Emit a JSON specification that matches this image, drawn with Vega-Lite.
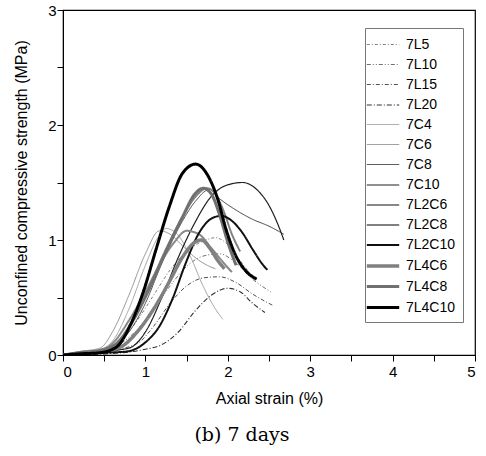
{
  "$schema": "https://vega.github.io/schema/vega-lite/v6.json",
  "width": 412,
  "height": 345,
  "autosize": {"type": "none"},
  "padding": {"left": 63, "top": 10, "right": 11, "bottom": 101},
  "background": "white",
  "title": {"text": "(b) 7 days", "orient": "bottom", "font": "DejaVu Serif", "fontSize": 19, "fontWeight": "normal", "color": "black", "offset": 20, "dx": -27},
  "config": {
    "view": {"stroke": "black", "strokeWidth": 1.2},
    "axis": {"domainColor": "black", "tickColor": "black", "labelColor": "black", "titleColor": "black", "labelFont": "Liberation Sans", "titleFont": "Liberation Sans", "labelFontSize": 15, "titleFontSize": 16, "titleFontWeight": "normal", "grid": false, "ticks": true, "tickWidth": 1},
    "legend": {"labelFont": "Liberation Sans"}
  },
  "data": {"values": [
    {"s":"7L5","x":0,"y":0},{"s":"7L5","x":0.2,"y":0.02},{"s":"7L5","x":0.45,"y":0.04},{"s":"7L5","x":0.7,"y":0.12},{"s":"7L5","x":0.9,"y":0.3},{"s":"7L5","x":1.1,"y":0.52},{"s":"7L5","x":1.3,"y":0.74},{"s":"7L5","x":1.5,"y":0.9},{"s":"7L5","x":1.7,"y":0.99},{"s":"7L5","x":1.85,"y":1.02},{"s":"7L5","x":2.0,"y":0.96},{"s":"7L5","x":2.15,"y":0.82},{"s":"7L5","x":2.3,"y":0.68},
    {"s":"7L10","x":0,"y":0},{"s":"7L10","x":0.2,"y":0.02},{"s":"7L10","x":0.45,"y":0.04},{"s":"7L10","x":0.7,"y":0.1},{"s":"7L10","x":0.9,"y":0.22},{"s":"7L10","x":1.1,"y":0.4},{"s":"7L10","x":1.3,"y":0.6},{"s":"7L10","x":1.5,"y":0.77},{"s":"7L10","x":1.7,"y":0.86},{"s":"7L10","x":1.9,"y":0.88},{"s":"7L10","x":2.1,"y":0.8},{"s":"7L10","x":2.3,"y":0.66},{"s":"7L10","x":2.52,"y":0.55},
    {"s":"7L15","x":0,"y":0},{"s":"7L15","x":0.2,"y":0.01},{"s":"7L15","x":0.5,"y":0.03},{"s":"7L15","x":0.9,"y":0.1},{"s":"7L15","x":1.1,"y":0.25},{"s":"7L15","x":1.3,"y":0.45},{"s":"7L15","x":1.5,"y":0.6},{"s":"7L15","x":1.7,"y":0.67},{"s":"7L15","x":1.9,"y":0.68},{"s":"7L15","x":2.1,"y":0.63},{"s":"7L15","x":2.3,"y":0.53},{"s":"7L15","x":2.55,"y":0.43},
    {"s":"7L20","x":0,"y":0},{"s":"7L20","x":0.5,"y":0.01},{"s":"7L20","x":1.0,"y":0.05},{"s":"7L20","x":1.2,"y":0.09},{"s":"7L20","x":1.4,"y":0.2},{"s":"7L20","x":1.6,"y":0.38},{"s":"7L20","x":1.8,"y":0.52},{"s":"7L20","x":2.0,"y":0.58},{"s":"7L20","x":2.15,"y":0.55},{"s":"7L20","x":2.3,"y":0.45},{"s":"7L20","x":2.45,"y":0.37},
    {"s":"7C4","x":0,"y":0},{"s":"7C4","x":0.2,"y":0.03},{"s":"7C4","x":0.45,"y":0.05},{"s":"7C4","x":0.6,"y":0.12},{"s":"7C4","x":0.8,"y":0.4},{"s":"7C4","x":1.0,"y":0.78},{"s":"7C4","x":1.15,"y":1.02},{"s":"7C4","x":1.25,"y":1.1},{"s":"7C4","x":1.4,"y":1.04},{"s":"7C4","x":1.55,"y":0.85},{"s":"7C4","x":1.7,"y":0.6},{"s":"7C4","x":1.85,"y":0.4},{"s":"7C4","x":1.94,"y":0.31},
    {"s":"7C6","x":0,"y":0},{"s":"7C6","x":0.2,"y":0.03},{"s":"7C6","x":0.45,"y":0.06},{"s":"7C6","x":0.6,"y":0.2},{"s":"7C6","x":0.8,"y":0.52},{"s":"7C6","x":1.0,"y":0.88},{"s":"7C6","x":1.17,"y":1.08},{"s":"7C6","x":1.3,"y":1.05},{"s":"7C6","x":1.45,"y":0.95},{"s":"7C6","x":1.6,"y":0.85},{"s":"7C6","x":1.75,"y":0.78},{"s":"7C6","x":1.85,"y":0.75},
    {"s":"7C8","x":0,"y":0},{"s":"7C8","x":0.2,"y":0.02},{"s":"7C8","x":0.45,"y":0.04},{"s":"7C8","x":0.6,"y":0.06},{"s":"7C8","x":0.8,"y":0.2},{"s":"7C8","x":1.0,"y":0.45},{"s":"7C8","x":1.2,"y":0.8},{"s":"7C8","x":1.4,"y":1.1},{"s":"7C8","x":1.6,"y":1.33},{"s":"7C8","x":1.78,"y":1.44},{"s":"7C8","x":1.9,"y":1.36},{"s":"7C8","x":2.1,"y":1.26},{"s":"7C8","x":2.3,"y":1.18},{"s":"7C8","x":2.5,"y":1.12},{"s":"7C8","x":2.68,"y":1.05},
    {"s":"7C10","x":0,"y":0},{"s":"7C10","x":0.2,"y":0.02},{"s":"7C10","x":0.45,"y":0.03},{"s":"7C10","x":0.8,"y":0.06},{"s":"7C10","x":1.0,"y":0.2},{"s":"7C10","x":1.2,"y":0.5},{"s":"7C10","x":1.4,"y":0.85},{"s":"7C10","x":1.6,"y":1.15},{"s":"7C10","x":1.8,"y":1.38},{"s":"7C10","x":2.0,"y":1.48},{"s":"7C10","x":2.18,"y":1.5},{"s":"7C10","x":2.35,"y":1.44},{"s":"7C10","x":2.5,"y":1.3},{"s":"7C10","x":2.6,"y":1.15},{"s":"7C10","x":2.68,"y":1.0},
    {"s":"7L2C6","x":0,"y":0},{"s":"7L2C6","x":0.2,"y":0.02},{"s":"7L2C6","x":0.45,"y":0.04},{"s":"7L2C6","x":0.6,"y":0.1},{"s":"7L2C6","x":0.8,"y":0.3},{"s":"7L2C6","x":1.0,"y":0.55},{"s":"7L2C6","x":1.2,"y":0.82},{"s":"7L2C6","x":1.35,"y":0.98},{"s":"7L2C6","x":1.5,"y":1.08},{"s":"7L2C6","x":1.65,"y":1.05},{"s":"7L2C6","x":1.8,"y":0.93},{"s":"7L2C6","x":1.95,"y":0.8},{"s":"7L2C6","x":2.05,"y":0.72},
    {"s":"7L2C8","x":0,"y":0},{"s":"7L2C8","x":0.2,"y":0.02},{"s":"7L2C8","x":0.45,"y":0.04},{"s":"7L2C8","x":0.65,"y":0.1},{"s":"7L2C8","x":0.85,"y":0.3},{"s":"7L2C8","x":1.05,"y":0.6},{"s":"7L2C8","x":1.25,"y":0.92},{"s":"7L2C8","x":1.45,"y":1.2},{"s":"7L2C8","x":1.6,"y":1.37},{"s":"7L2C8","x":1.75,"y":1.45},{"s":"7L2C8","x":1.85,"y":1.4},{"s":"7L2C8","x":1.95,"y":1.25},{"s":"7L2C8","x":2.05,"y":1.05},{"s":"7L2C8","x":2.15,"y":0.9},
    {"s":"7L2C10","x":0,"y":0},{"s":"7L2C10","x":0.2,"y":0.01},{"s":"7L2C10","x":0.5,"y":0.02},{"s":"7L2C10","x":0.77,"y":0.03},{"s":"7L2C10","x":1.0,"y":0.11},{"s":"7L2C10","x":1.17,"y":0.25},{"s":"7L2C10","x":1.33,"y":0.49},{"s":"7L2C10","x":1.49,"y":0.8},{"s":"7L2C10","x":1.65,"y":1.06},{"s":"7L2C10","x":1.81,"y":1.19},{"s":"7L2C10","x":1.92,"y":1.21},{"s":"7L2C10","x":2.06,"y":1.16},{"s":"7L2C10","x":2.18,"y":1.06},{"s":"7L2C10","x":2.3,"y":0.92},{"s":"7L2C10","x":2.42,"y":0.79},{"s":"7L2C10","x":2.48,"y":0.74},
    {"s":"7L4C6","x":0,"y":0},{"s":"7L4C6","x":0.2,"y":0.01},{"s":"7L4C6","x":0.45,"y":0.03},{"s":"7L4C6","x":0.7,"y":0.07},{"s":"7L4C6","x":0.9,"y":0.2},{"s":"7L4C6","x":1.1,"y":0.4},{"s":"7L4C6","x":1.3,"y":0.65},{"s":"7L4C6","x":1.45,"y":0.85},{"s":"7L4C6","x":1.6,"y":0.98},{"s":"7L4C6","x":1.68,"y":1.0},{"s":"7L4C6","x":1.78,"y":0.93},{"s":"7L4C6","x":1.88,"y":0.82},{"s":"7L4C6","x":1.96,"y":0.75},
    {"s":"7L4C8","x":0,"y":0},{"s":"7L4C8","x":0.2,"y":0.02},{"s":"7L4C8","x":0.45,"y":0.04},{"s":"7L4C8","x":0.65,"y":0.1},{"s":"7L4C8","x":0.85,"y":0.3},{"s":"7L4C8","x":1.05,"y":0.58},{"s":"7L4C8","x":1.25,"y":0.9},{"s":"7L4C8","x":1.45,"y":1.2},{"s":"7L4C8","x":1.6,"y":1.4},{"s":"7L4C8","x":1.7,"y":1.45},{"s":"7L4C8","x":1.8,"y":1.4},{"s":"7L4C8","x":1.9,"y":1.22},{"s":"7L4C8","x":2.0,"y":0.98},{"s":"7L4C8","x":2.1,"y":0.78},
    {"s":"7L4C10","x":0,"y":0},{"s":"7L4C10","x":0.2,"y":0.01},{"s":"7L4C10","x":0.45,"y":0.02},{"s":"7L4C10","x":0.65,"y":0.07},{"s":"7L4C10","x":0.81,"y":0.25},{"s":"7L4C10","x":0.97,"y":0.54},{"s":"7L4C10","x":1.13,"y":0.92},{"s":"7L4C10","x":1.29,"y":1.29},{"s":"7L4C10","x":1.45,"y":1.58},{"s":"7L4C10","x":1.61,"y":1.66},{"s":"7L4C10","x":1.75,"y":1.57},{"s":"7L4C10","x":1.88,"y":1.35},{"s":"7L4C10","x":1.98,"y":1.09},{"s":"7L4C10","x":2.1,"y":0.86},{"s":"7L4C10","x":2.22,"y":0.73},{"s":"7L4C10","x":2.35,"y":0.66}
  ]},
  "mark": {"type": "line", "interpolate": "monotone", "clip": true},
  "encoding": {
    "x": {"field": "x", "type": "quantitative", "scale": {"domain": [0, 5], "nice": false},
      "axis": {"title": "Axial strain (%)", "values": [0,0.5,1,1.5,2,2.5,3,3.5,4,4.5,5], "labelExpr": "datum.value % 1 === 0 ? format(datum.value, 'd') : ''", "tickSize": 6, "labelPadding": 3, "titlePadding": 11,
        "encode": {"ticks": {"update": {"y2": {"signal": "datum.value % 1 === 0 ? -7 : -4"}}}}}},
    "y": {"field": "y", "type": "quantitative", "scale": {"domain": [0, 3], "nice": false},
      "axis": {"title": "Unconfined compressive strength (MPa)", "values": [0,0.5,1,1.5,2,2.5,3], "labelExpr": "datum.value % 1 === 0 ? format(datum.value, 'd') : ''", "tickSize": 6, "labelPadding": 1, "titlePadding": 18,
        "encode": {"ticks": {"update": {"x2": {"signal": "datum.value % 1 === 0 ? 7 : 4"}}}}}},
    "color": {"field": "s", "type": "nominal",
      "scale": {"type": "ordinal", "domain": ["7L5","7L10","7L15","7L20","7C4","7C6","7C8","7C10","7L2C6","7L2C8","7L2C10","7L4C6","7L4C8","7L4C10"],
        "range": ["#808080","#707070","#505050","#303030","#a0a0a0","#909090","#404040","#202020","#888888","#808080","#101010","#808080","#707070","#000000"]},
      "legend": {"title": null, "orient": "none", "legendX": 302, "legendY": 18, "strokeColor": "#777777", "padding": 7, "labelFontSize": 14, "labelColor": "black", "symbolType": "M-1.8,0H1.8", "symbolSize": 324, "labelOffset": 12, "rowPadding": 3}},
    "strokeDash": {"field": "s", "type": "nominal",
      "scale": {"type": "ordinal", "domain": ["7L5","7L10","7L15","7L20","7C4","7C6","7C8","7C10","7L2C6","7L2C8","7L2C10","7L4C6","7L4C8","7L4C10"],
        "range": [[3,2,1,2],[4,2,1,2,1,2],[4,2,1,2],[5,2,1,2],[1,0],[1,0],[1,0],[1,0],[1,0],[1,0],[1,0],[1,0],[1,0],[1,0]]},
      "legend": {"title": null}},
    "strokeWidth": {"field": "s", "type": "nominal",
      "scale": {"type": "ordinal", "domain": ["7L5","7L10","7L15","7L20","7C4","7C6","7C8","7C10","7L2C6","7L2C8","7L2C10","7L4C6","7L4C8","7L4C10"],
        "range": [1,1,1,1.1,1,1,1,1.2,2,2,2,3.5,3,3]},
      "legend": {"title": null}}
  }
}
